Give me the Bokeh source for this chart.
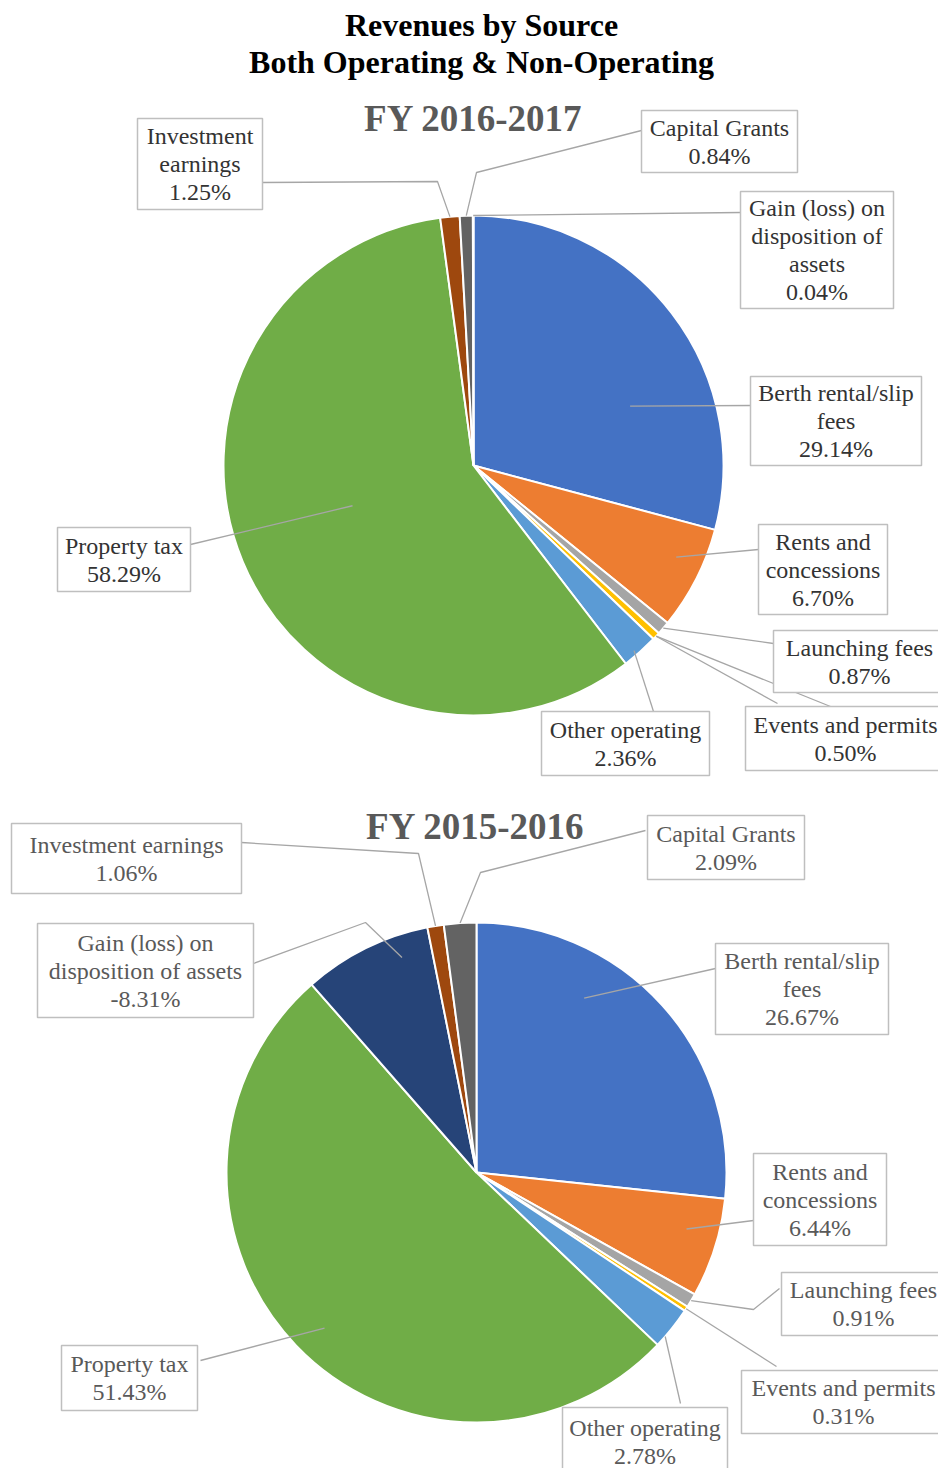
import math
from bokeh.plotting import figure
from bokeh.models import Range1d, ColumnDataSource
from bokeh.core.properties import value
from bokeh.embed import file_html
from bokeh.resources import INLINE

# ---------------- DATA ----------------
title_lines = ["Revenues by Source", "Both Operating & Non-Operating"]

fy_1617 = "FY 2016-2017"
cats_1617 = ["Berth rental/slip fees", "Rents and concessions", "Launching fees",
             "Events and permits", "Other operating", "Property tax",
             "Investment earnings", "Capital Grants",
             "Gain (loss) on disposition of assets"]
vals_1617 = [29.14, 6.70, 0.87, 0.50, 2.36, 58.29, 1.25, 0.84, 0.04]

fy_1516 = "FY 2015-2016"
cats_1516 = ["Berth rental/slip fees", "Rents and concessions", "Launching fees",
             "Events and permits", "Other operating", "Property tax",
             "Gain (loss) on disposition of assets", "Investment earnings",
             "Capital Grants"]
vals_1516 = [26.67, 6.44, 0.91, 0.31, 2.78, 51.43, -8.31, 1.06, 2.09]

colors = {
    "Berth rental/slip fees": "#4472C4",
    "Rents and concessions": "#ED7D31",
    "Launching fees": "#A5A5A5",
    "Events and permits": "#FFC000",
    "Other operating": "#5B9BD5",
    "Property tax": "#70AD47",
    "Investment earnings": "#9E480E",
    "Capital Grants": "#636363",
    "Gain (loss) on disposition of assets": "#264478",
}

# ---------------- LAYOUT ----------------
W, H = 938, 1468
SERIF = "Liberation Serif"

# label layout per chart: name -> (wrapped name lines, box [l, t, r, b] in px,
#   anchor (t within slice angle, fraction of radius), leader waypoints in px)
layout_1617 = {
    "Berth rental/slip fees": (["Berth rental/slip", "fees"], [750, 376, 921, 465], (0.66, 0.67), [(750, 405)]),
    "Rents and concessions": (["Rents and", "concessions"], [758, 524, 887, 614], (0.39, 0.89), [(758, 549)]),
    "Launching fees": (["Launching fees"], [773, 630, 945, 692], (0.5, 1.0), [(773, 643)]),
    "Events and permits": (["Events and permits"], [745, 706, 945, 770], (0.5, 1.0), [(830, 706)]),
    "Other operating": (["Other operating"], [541, 711, 709, 775], (0.6, 0.98), [(653, 711)]),
    "Property tax": (["Property tax"], [57, 527, 190, 591], (0.52, 0.51), [(190, 544)]),
    "Investment earnings": (["Investment", "earnings"], [137, 118, 262, 209], (0.5, 1.0), [(437, 181), (262, 182)]),
    "Capital Grants": (["Capital Grants"], [641, 110, 797, 172], (0.5, 1.0), [(476, 172), (641, 130)]),
    "Gain (loss) on disposition of assets": (["Gain (loss) on", "disposition of", "assets"], [740, 191, 893, 308], (0.5, 1.0), [(740, 212)]),
}
extra_1617 = {"Events and permits": [(777, 703)]}

layout_1516 = {
    "Berth rental/slip fees": (["Berth rental/slip", "fees"], [715, 943, 888, 1034], (0.33, 0.82), [(715, 968)]),
    "Rents and concessions": (["Rents and", "concessions"], [753, 1153, 886, 1245], (0.39, 0.87), [(753, 1220)]),
    "Launching fees": (["Launching fees"], [781, 1272, 945, 1335], (0.5, 1.0), [(753, 1309), (779, 1288)]),
    "Events and permits": (["Events and permits"], [741, 1370, 945, 1433], (0.5, 1.0), [(776, 1366)]),
    "Other operating": (["Other operating"], [562, 1407, 727, 1475], (0.74, 1.0), [(680, 1403)]),
    "Property tax": (["Property tax"], [61, 1345, 197, 1410], (0.49, 0.87), [(200, 1360)]),
    "Gain (loss) on disposition of assets": (["Gain (loss) on", "disposition of assets"], [37, 923, 253, 1017], (0.74, 0.91), [(365, 922), (253, 963)]),
    "Investment earnings": (["Investment earnings"], [11, 823, 241, 893], (0.5, 1.0), [(418, 853), (241, 842)]),
    "Capital Grants": (["Capital Grants"], [647, 815, 804, 879], (0.5, 1.0), [(480, 872), (645, 830)]),
}
extra_1516 = {}

charts = [
    dict(fy=fy_1617, cats=cats_1617, vals=vals_1617, cx=473, cy=465, r=250,
         fy_pos=(473, 118), layout=layout_1617, extra=extra_1617, text_color="#333333"),
    dict(fy=fy_1516, cats=cats_1516, vals=vals_1516, cx=476, cy=1172, r=250,
         fy_pos=(475, 826), layout=layout_1516, extra=extra_1516, text_color="#595959"),
]


def Y(y):
    return H - y


p = figure(width=W, height=H, x_range=Range1d(0, W), y_range=Range1d(0, H),
           output_backend="svg", toolbar_location=None,
           x_axis_type=None, y_axis_type=None, min_border=0)
p.outline_line_color = None
p.grid.visible = False
p.background_fill_color = "white"
p.border_fill_color = "white"

# titles
p.text(x=[W / 2 + 12] * 2, y=[Y(24), Y(61)], text=title_lines,
       text_font=value(SERIF), text_font_style="bold", text_font_size="32px",
       text_color="black", text_align="center", text_baseline="middle")

for ch in charts:
    vals = ch["vals"]
    total = sum(abs(v) for v in vals)
    cx, cy, r = ch["cx"], Y(ch["cy"]), ch["r"]
    starts, ends, cols = [], [], []
    frac_start = {}
    cum = 0.0
    for c, v in zip(ch["cats"], vals):
        a0 = cum / total
        cum += abs(v)
        a1 = cum / total
        frac_start[c] = (a0, a1)
        starts.append(math.pi / 2 - 2 * math.pi * a0)
        ends.append(math.pi / 2 - 2 * math.pi * a1)
        cols.append(colors[c])
    src = ColumnDataSource(dict(start=starts, end=ends, color=cols))
    p.wedge(x=cx, y=cy, radius=r, start_angle="start", end_angle="end",
            direction="clock", fill_color="color", line_color="white",
            line_width=2, source=src)

    # leaders, boxes and label texts
    xs, ys = [], []
    bl, bt, br, bb = [], [], [], []
    tx, ty, tt = [], [], []
    for c, v in zip(ch["cats"], vals):
        lines, box, (tfrac, rfrac), way = ch["layout"][c]
        a0, a1 = frac_start[c]
        ang = 2 * math.pi * (a0 + tfrac * (a1 - a0))
        sx = cx + rfrac * r * math.sin(ang)
        sy = cy + rfrac * r * math.cos(ang)
        xs.append([sx] + [w[0] for w in way])
        ys.append([sy] + [Y(w[1]) for w in way])
        for e in ch["extra"].get(c, []):
            xs.append([sx, e[0]])
            ys.append([sy, Y(e[1])])
        bl.append(box[0]); br.append(box[2]); bt.append(Y(box[1])); bb.append(Y(box[3]))
        all_lines = lines + [f"{v:.2f}%"]
        n = len(all_lines)
        mid = (box[1] + box[3]) / 2
        for i, t in enumerate(all_lines):
            tx.append((box[0] + box[2]) / 2)
            ty.append(Y(mid + (i - (n - 1) / 2) * 28))
            tt.append(t)
    p.multi_line(xs=xs, ys=ys, line_color="#A6A6A6", line_width=1.3)
    p.quad(left=bl, right=br, top=bt, bottom=bb, fill_color="white",
           line_color="#BFBFBF", line_width=1.5)
    p.text(x=tx, y=ty, text=tt, text_font=value(SERIF), text_font_size="24px",
           text_color=ch["text_color"], text_align="center", text_baseline="middle")

    fx, fy = ch["fy_pos"]
    p.text(x=[fx], y=[Y(fy)], text=[ch["fy"]], text_font=value(SERIF),
           text_font_style="bold", text_font_size="37px", text_color="#595959",
           text_align="center", text_baseline="middle")

open("out.html", "w").write(file_html(p, INLINE))
